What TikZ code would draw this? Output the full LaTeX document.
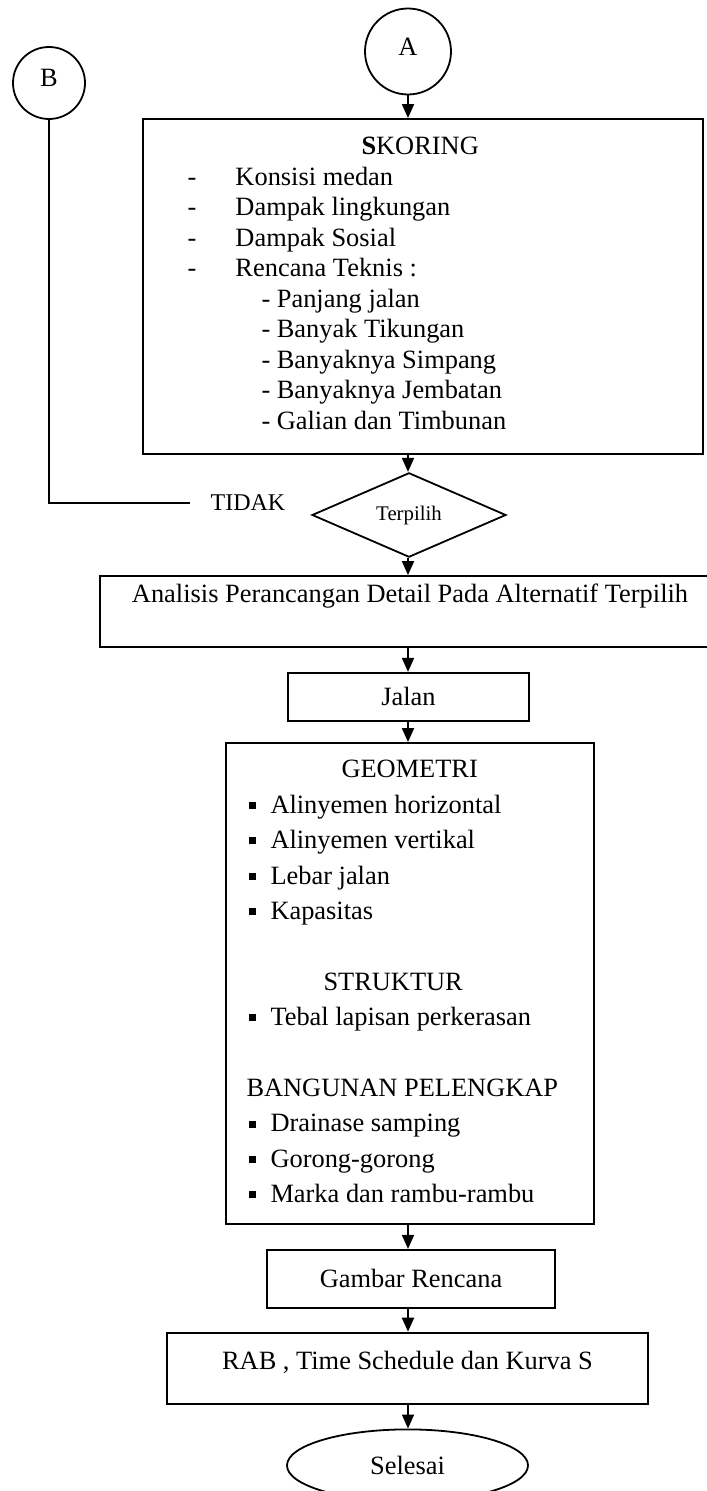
\documentclass[tikz,border=0pt]{standalone}
\usepackage{fontspec}
\setmainfont{Liberation Serif}
\usetikzlibrary{arrows.meta, positioning, shapes.geometric}

\newcommand{\dashitem}{\makebox[24pt][l]{-}}
\newcommand{\sqitem}{\makebox[12pt][l]{\hspace{1pt}\rule[2.2pt]{3.5pt}{3.5pt}}}

\begin{document}
\begin{tikzpicture}[
  box/.style={draw, rectangle, line width=0.9pt, inner sep=0pt, font=\fontsize{13.2pt}{15.25pt}\selectfont},
  connector/.style={draw, circle, line width=0.9pt, inner sep=0pt, text depth=5pt, font=\fontsize{13.2pt}{15.25pt}\selectfont},
  decision/.style={draw, diamond, line width=0.9pt, inner sep=0pt, font=\fontsize{10.4pt}{12pt}\selectfont},
  terminal/.style={draw, ellipse, line width=0.9pt, inner sep=0pt, font=\fontsize{13.2pt}{15.25pt}\selectfont},
  itemlist/.style={align=left, inner sep=0pt, anchor=north west},
  link/.style={line width=0.9pt},
  arr/.style={-{Triangle[width=6pt,length=7pt]}, line width=0.9pt}
]
\useasboundingbox (0,0) rectangle (353pt,-745.5pt);

% Connectors
\node[connector, minimum size=43pt] (A) at (204pt,-25.75pt) {A};
\node[connector, minimum size=36pt] (B) at (24.5pt,-41.5pt) {B};

% Scoring block
\node[box, minimum width=280pt, minimum height=167.5pt] (skor) at (211.5pt,-143.25pt) {};
\node[itemlist, font=\fontsize{13.2pt}{15.25pt}\selectfont] (skorlist) at ([xshift=22.5pt, yshift=-9.5pt]skor.north west) {%
  \hspace*{87pt}\textbf{S}KORING\\
  \dashitem Konsisi medan\\
  \dashitem Dampak lingkungan\\
  \dashitem Dampak Sosial\\
  \dashitem Rencana Teknis :\\
  \hspace*{37pt}- Panjang jalan\\
  \hspace*{37pt}- Banyak Tikungan\\
  \hspace*{37pt}- Banyaknya Simpang\\
  \hspace*{37pt}- Banyaknya Jembatan\\
  \hspace*{37pt}- Galian dan Timbunan};

% Decision
\node[decision, minimum width=97pt, minimum height=36pt] (dec) at (204.5pt,-257.5pt) {Terpilih};
\node[inner xsep=10pt, inner ysep=0pt, font=\fontsize{12pt}{14pt}\selectfont] (tidak) at (124pt,-251.5pt) {TIDAK};

% Detail design
\node[box, minimum width=310pt, minimum height=35.5pt, text depth=18.7pt] (ana) at (205pt,-305.75pt) {Analisis Perancangan Detail Pada Alternatif Terpilih};
\node[box, minimum width=120.5pt, minimum height=24pt, below=12pt of ana, xshift=-0.75pt] (jalan) {Jalan};

% Geometry / structure block
\node[box, minimum width=184pt, minimum height=240.5pt] (geo) at (205pt,-491.75pt) {};
\node[itemlist, font=\fontsize{13.2pt}{17.7pt}\selectfont] (geolist) at ([xshift=10.5pt, yshift=-9pt]geo.north west) {%
  \hspace*{47.5pt}GEOMETRI\\
  \sqitem Alinyemen horizontal\\
  \sqitem Alinyemen vertikal\\
  \sqitem Lebar jalan\\
  \sqitem Kapasitas\\
  \mbox{}\\
  \hspace*{38.5pt}STRUKTUR\\
  \sqitem Tebal lapisan perkerasan\\
  \mbox{}\\
  BANGUNAN PELENGKAP\\
  \sqitem Drainase samping\\
  \sqitem Gorong-gorong\\
  \sqitem Marka dan rambu-rambu};

% Output
\node[box, minimum width=144pt, minimum height=29pt, below=12pt of geo, xshift=0.5pt] (gambar) {Gambar Rencana};
\node[box, minimum width=240.5pt, minimum height=35.5pt, text depth=7.7pt, below=11.5pt of gambar, xshift=-1.75pt] (rab) {RAB , Time Schedule dan Kurva S};
\node[terminal, minimum width=120.5pt, minimum height=36pt, below=12pt of rab] (selesai) {Selesai};

% Arrows
\draw[arr] (A) -- (A |- skor.north);
\draw[arr] (skor.south -| A) -- (A |- dec.north);
\draw[arr] (dec.south -| A) -- (A |- ana.north);
\draw[arr] (ana.south -| A) -- (A |- jalan.north);
\draw[arr] (jalan.south -| A) -- (A |- geo.north);
\draw[arr] (geo.south -| A) -- (A |- gambar.north);
\draw[arr] (gambar.south -| A) -- (A |- rab.north);
\draw[arr] (rab.south -| A) -- (A |- selesai.north);
\draw[link] (B.south) |- (tidak.west);

\end{tikzpicture}
\end{document}
